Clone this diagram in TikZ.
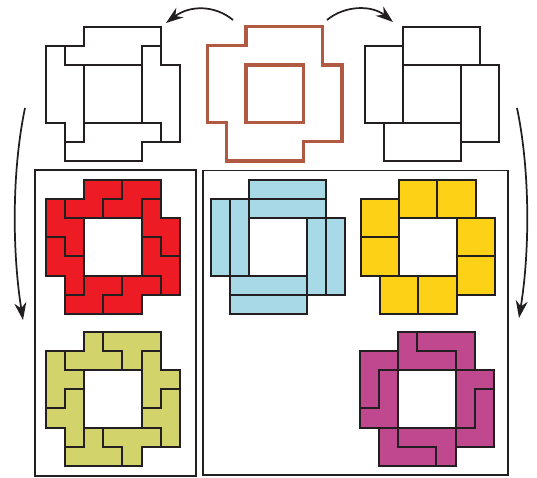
\documentclass[tikz,border=0pt]{standalone}
\usetikzlibrary{arrows.meta}
\definecolor{ink}{HTML}{231F20}
\definecolor{brownline}{HTML}{B05A43}
\definecolor{redfill}{HTML}{ED1C24}
\definecolor{bluefill}{HTML}{A8D9E6}
\definecolor{yellowfill}{HTML}{FCD116}
\definecolor{olivefill}{HTML}{D2D36B}
\definecolor{magentafill}{HTML}{C0488F}
\tikzset{
  piece/.style={draw=ink, line width=1.5pt},
  boxline/.style={draw=ink, line width=1.1pt},
  arr/.style={draw=ink, line width=1.3pt, -{Stealth[length=13pt,width=9pt]}}
}
\newcommand\ringoutline{(0,-2)--(4,-2)--(4,0)--(5,0)--(5,4)--(3,4)--(3,5)--(-1,5)--(-1,3)--(-2,3)--(-2,-1)--(0,-1)--cycle}
\newcommand\ringfig[4]{%
\begin{scope}[xshift=#1*0.75pt, yshift=-#2*0.75pt, x=14.4pt, y=-14.4pt]
  \fill[#3] \ringoutline;
  \fill[white] (0,0) rectangle (3,3);
  \foreach \r in {0,90,180,270}{\draw[piece, rotate around={\r:(1.5,1.5)}] #4;}
  \draw[piece] \ringoutline;
  \draw[piece] (0,0) rectangle (3,3);
\end{scope}}
\begin{document}
\begin{tikzpicture}[x=0.75pt, y=-0.75pt]
\useasboundingbox (0,0) rectangle (537,478);
% top row
\ringfig{84}{65}{white}{(-1,-1)--(-1,0)--(0,0)}
\begin{scope}[xshift=246*0.75pt, yshift=-65*0.75pt, x=14.4pt, y=-14.4pt]
  \draw[draw=brownline, line width=2.4pt] \ringoutline;
  \draw[draw=brownline, line width=2.4pt] (0,0) rectangle (3,3);
\end{scope}
\ringfig{403}{65}{white}{(0,-1)--(0,0)}
% boxes
\draw[boxline] (35,170) rectangle (196,476);
\draw[boxline] (203,170.5) rectangle (508,475);
% coloured tilings
\ringfig{84}{218}{redfill}{(-1,-1)--(-1,0)--(0,0) (2,-2)--(2,-1)--(1,-1)--(1,0)}
\ringfig{249}{218}{bluefill}{(0,-1)--(0,0) (0,-1)--(4,-1)}
\ringfig{399}{218}{yellowfill}{(0,-1)--(0,0) (2,-2)--(2,0)}
\ringfig{84}{370}{olivefill}{(-1,-1)--(-1,0)--(0,0) (1,-2)--(1,-1)--(2,-1)--(2,0)}
\ringfig{398}{370}{magentafill}{(1,-2)--(1,-1)--(3,-1)--(3,0) (0,-1)--(0,0)}
% arrows
\coordinate (tlS) at (233,20);
\coordinate (tlE) at (166,23);
\coordinate (trS) at (327,20);
\coordinate (trE) at (393,22);
\coordinate (lS) at (25,108);
\coordinate (lE) at (23,320);
\coordinate (rS) at (517,108);
\coordinate (rE) at (519,318);
\draw[arr] (tlS) .. controls (215,5) and (190,5) .. (tlE);
\draw[arr] (trS) .. controls (345,5) and (372,5) .. (trE);
\draw[arr] (lS) .. controls (12,170) and (12,250) .. (lE);
\draw[arr] (rS) .. controls (530,170) and (530,250) .. (rE);
\end{tikzpicture}
\end{document}
